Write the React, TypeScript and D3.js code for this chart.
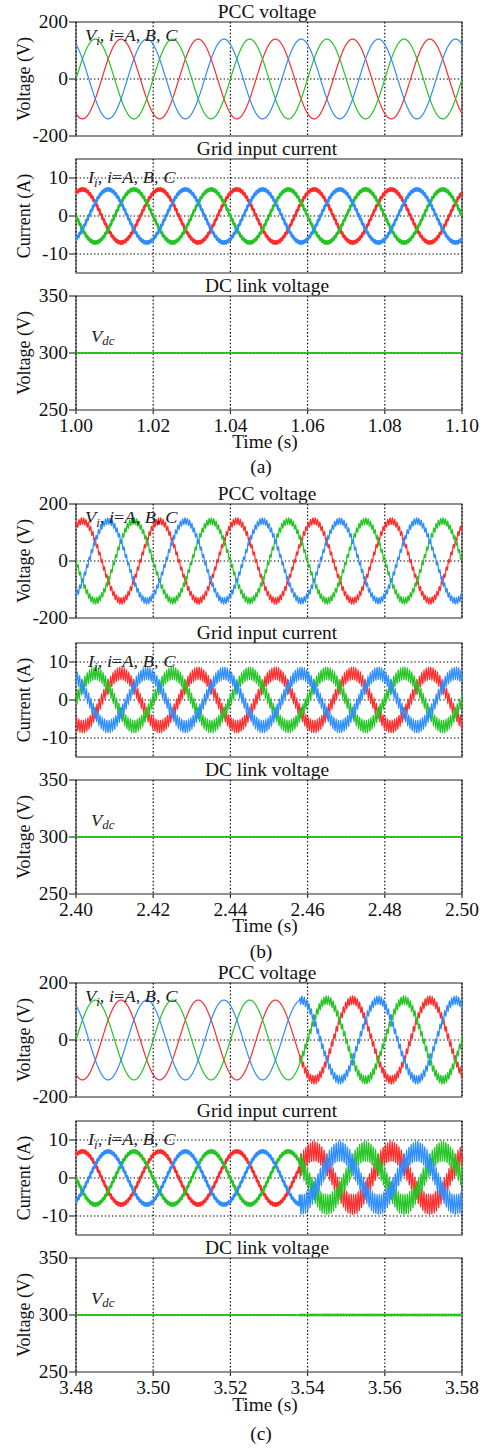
import React from "react";
import * as d3 from "d3";

// ---------------- data ----------------
const groupLabels = ["(a)", "(b)", "(c)"];
const windowStarts = [1.0, 2.4, 3.48];
const windowLength = 0.1;
const timeTickLabelsA = ["1.00", "1.02", "1.04", "1.06", "1.08", "1.10"];
const timeTickLabelsB = ["2.40", "2.42", "2.44", "2.46", "2.48", "2.50"];
const timeTickLabelsC = ["3.48", "3.50", "3.52", "3.54", "3.56", "3.58"];
const gridFrequency = 50; // Hz
const phaseNames = ["A", "B", "C"];

// PCC voltage: phase angle (deg) at window start of each trace (red, green, blue)
const pccPhaseA = [-120, 0, 120];
const pccPhaseB = [60, 180, 300];
const pccPhaseC = [-120, 0, 120];
const pccAmplitude = [140, 140, 140]; // V peak
const pccRippleBefore = [0, 11, 0]; // V ripple before onset
const pccRippleAfter = [0, 11, 14]; // V ripple after onset
const rippleFreqVoltage = 1650; // Hz

// Grid current: phase angle (deg) at window start (red, green, blue)
const currentPhaseA = [60, 180, -60];
const currentPhaseB = [-120, 0, 120];
const currentPhaseC = [60, 180, -60];
const currentAmplitude = [7, 7, 7]; // A peak
const currentRippleBefore = [0.3, 1.6, 0.3]; // A
const currentRippleAfter = [0.3, 1.6, 2.6]; // A
const rippleFreqCurrent = 1700; // Hz

// disturbance onset time per group (ripple change)
const rippleOnset = [1.1, 2.4, 3.538];

// DC link voltage
const dcVoltage = [300, 300, 300];
const dcRippleBefore = [0, 0, 0];
const dcRippleAfter = [0, 0, 0.35];

const pccTicks = [-200, 0, 200];
const currentTicks = [-10, 0, 10];
const dcTicks = [250, 300, 350];

// ---------------- styles / layout ----------------
const traceColors = ["#ff2b2b", "#25c425", "#2d8dff"];
const dcColor = "#2ecc1e";
const FONT = "'Liberation Serif','Times New Roman',serif";
const SX = 1.08;
const W = 488;
const H = 1450;
const X0 = 76;
const X1 = 462;
const PANEL_H = 114;
const layout = [
  { tops: [22, 159, 296], timeLabel: 448, caption: 473 },
  { tops: [504, 643, 780], timeLabel: 932, caption: 958 },
  { tops: [983, 1121, 1258], timeLabel: 1411, caption: 1440 },
];

const phasesByGroup = [
  [pccPhaseA, currentPhaseA],
  [pccPhaseB, currentPhaseB],
  [pccPhaseC, currentPhaseC],
];
const tickLabelsByGroup = [timeTickLabelsA, timeTickLabelsB, timeTickLabelsC];

function sampleWave(
  t0: number,
  amp: number,
  phaseDeg: number,
  offset: number,
  rBefore: number,
  rAfter: number,
  onset: number,
  rFreq: number,
  idx: number
): [number, number][] {
  const n = 3000;
  const pts: [number, number][] = [];
  for (let k = 0; k <= n; k++) {
    const t = t0 + (windowLength * k) / n;
    const theta = 2 * Math.PI * gridFrequency * (t - t0) + (phaseDeg * Math.PI) / 180;
    const r = t >= onset ? rAfter : rBefore;
    const v =
      offset +
      amp * Math.sin(theta) +
      r * Math.sin(2 * Math.PI * rFreq * (t - t0) + idx * 2.1);
    pts.push([t, v]);
  }
  return pts;
}

function Txt(props: {
  x: number;
  y: number;
  anchor?: string;
  size?: number;
  children: React.ReactNode;
}) {
  const { x, y, anchor = "middle", size = 18, children } = props;
  return (
    <text
      transform={`translate(${x},${y}) scale(${SX},1)`}
      textAnchor={anchor as any}
      fontSize={size}
      fontFamily={FONT}
      fill="#111"
    >
      {children}
    </text>
  );
}

type Kind = "pcc" | "current" | "dc";

function Panel({ g, kind, top }: { g: number; kind: Kind; top: number }) {
  const t0 = windowStarts[g];
  const x = d3.scaleLinear().domain([t0, t0 + windowLength]).range([X0, X1]);
  const domain = kind === "pcc" ? [-200, 200] : kind === "current" ? [-15, 15] : [250, 350];
  const ticks = kind === "pcc" ? pccTicks : kind === "current" ? currentTicks : dcTicks;
  const y = d3.scaleLinear().domain(domain).range([top + PANEL_H, top]);
  const line = d3
    .line<[number, number]>()
    .x((d) => x(d[0]))
    .y((d) => y(d[1]));
  const xTickVals = d3.range(6).map((i) => t0 + i * 0.02);
  const title = kind === "pcc" ? "PCC voltage" : kind === "current" ? "Grid input current" : "DC link voltage";
  const ylab = kind === "current" ? "Current (A)" : "Voltage (V)";
  const midY = top + PANEL_H / 2;

  let traces: React.ReactNode[] = [];
  if (kind === "pcc" || kind === "current") {
    const phases = phasesByGroup[g][kind === "pcc" ? 0 : 1];
    phaseNames.forEach((_, i) => {
      const pts =
        kind === "pcc"
          ? sampleWave(t0, pccAmplitude[g], phases[i], 0, pccRippleBefore[g], pccRippleAfter[g], rippleOnset[g], rippleFreqVoltage, i)
          : sampleWave(t0, currentAmplitude[g], phases[i], 0, currentRippleBefore[g], currentRippleAfter[g], rippleOnset[g], rippleFreqCurrent, i);
      const thick = kind === "current" && currentRippleBefore[g] < 1;
      if (kind === "current" && g === 2) {
        const before = pts.filter((p) => p[0] <= rippleOnset[g]);
        const after = pts.filter((p) => p[0] >= rippleOnset[g] - 0.0002);
        traces.push(
          <path key={"b" + i} d={line(before) || ""} fill="none" stroke={traceColors[i]} strokeWidth={2.6} />
        );
        traces.push(
          <path key={"a" + i} d={line(after) || ""} fill="none" stroke={traceColors[i]} strokeWidth={1.1} />
        );
      } else {
        traces.push(
          <path
            key={i}
            d={line(pts) || ""}
            fill="none"
            stroke={traceColors[i]}
            strokeWidth={kind === "current" ? (thick ? 2.6 : 1.1) : 1.2}
          />
        );
      }
    });
  } else {
    const pts = sampleWave(t0, 0, 0, dcVoltage[g], dcRippleBefore[g], dcRippleAfter[g], rippleOnset[g], rippleFreqVoltage, 0);
    traces.push(<path key="dc" d={line(pts) || ""} fill="none" stroke={dcColor} strokeWidth={2.2} />);
  }

  return (
    <g>
      <Txt x={267} y={top - 4}>{title}</Txt>
      {/* frame */}
      <rect x={X0} y={top} width={X1 - X0} height={PANEL_H} fill="#fff" stroke="#555" strokeWidth={1.3} />
      {/* vertical grid */}
      {xTickVals.map((t, i) => (
        <line key={"vx" + i} x1={x(t)} x2={x(t)} y1={top} y2={top + PANEL_H} stroke="#000" strokeWidth={1.2} strokeDasharray="1.4 2.2" />
      ))}
      {/* horizontal grid */}
      {ticks
        .filter((v) => v > domain[0] && v < domain[1])
        .map((v, i) => (
          <line key={"hy" + i} x1={X0} x2={X1} y1={y(v)} y2={y(v)} stroke="#000" strokeWidth={1.2} strokeDasharray="1.4 2.2" />
        ))}
      {traces}
      {kind === "dc" && (
        <line x1={X0} x2={X1} y1={y(dcVoltage[g])} y2={y(dcVoltage[g])} stroke="#1b4d12" strokeOpacity={0.45} strokeWidth={1} strokeDasharray="1 2" />
      )}
      {/* y ticks */}
      {ticks.map((v, i) => (
        <g key={"yt" + i}>
          <line x1={X0 - 7} x2={X0} y1={y(v)} y2={y(v)} stroke="#333" strokeWidth={1.2} />
          <Txt x={X0 - 8} y={y(v) + 6} anchor="end">{String(v)}</Txt>
        </g>
      ))}
      {/* y label */}
      <text
        transform={`translate(30,${midY}) rotate(-90)`}
        textAnchor="middle"
        fontSize={18}
        fontFamily={FONT}
        fill="#111"
      >
        {ylab}
      </text>
      {/* annotation */}
      {kind === "pcc" && (
        <text transform={`translate(85,${top + 19}) scale(${SX},1)`} fontSize={17} fontFamily={FONT} fill="#222">
          <tspan fontStyle="italic">V</tspan>
          <tspan fontStyle="italic" fontSize={12} dy={4}>i</tspan>
          <tspan dy={-4}>, </tspan>
          <tspan fontStyle="italic">i</tspan>
          <tspan>=</tspan>
          <tspan fontStyle="italic">A</tspan>
          <tspan>, </tspan>
          <tspan fontStyle="italic">B</tspan>
          <tspan>, </tspan>
          <tspan fontStyle="italic">C</tspan>
        </text>
      )}
      {kind === "current" && (
        <text transform={`translate(88,${top + 24}) scale(${SX},1)`} fontSize={17} fontFamily={FONT} fill="#222">
          <tspan fontStyle="italic">I</tspan>
          <tspan fontStyle="italic" fontSize={12} dy={4}>i</tspan>
          <tspan dy={-4}>, </tspan>
          <tspan fontStyle="italic">i</tspan>
          <tspan>=</tspan>
          <tspan fontStyle="italic">A</tspan>
          <tspan>, </tspan>
          <tspan fontStyle="italic">B</tspan>
          <tspan>, </tspan>
          <tspan fontStyle="italic">C</tspan>
        </text>
      )}
      {kind === "dc" && (
        <text transform={`translate(91,${top + 46}) scale(${SX},1)`} fontSize={17} fontFamily={FONT} fill="#222">
          <tspan fontStyle="italic">V</tspan>
          <tspan fontStyle="italic" fontSize={12} dy={3}>dc</tspan>
        </text>
      )}
      {/* x axis labels for bottom panel */}
      {kind === "dc" &&
        xTickVals.map((t, i) => (
          <g key={"xt" + i}>
            <line x1={x(t)} x2={x(t)} y1={top + PANEL_H} y2={top + PANEL_H + 4} stroke="#333" strokeWidth={1.2} />
            <Txt x={x(t)} y={top + PANEL_H + 22}>{tickLabelsByGroup[g][i]}</Txt>
          </g>
        ))}
    </g>
  );
}

export default function App() {
  return (
    <div style={{ position: "absolute", left: 0, top: 0, width: W, height: H, background: "#fff" }}>
      <svg width={W} height={H} viewBox={`0 0 ${W} ${H}`} style={{ display: "block" }}>
        <rect x={0} y={0} width={W} height={H} fill="#fff" />
        {layout.map((L, g) => (
          <g key={g}>
            <Panel g={g} kind="pcc" top={L.tops[0]} />
            <Panel g={g} kind="current" top={L.tops[1]} />
            <Panel g={g} kind="dc" top={L.tops[2]} />
            <Txt x={265} y={L.timeLabel}>Time (s)</Txt>
            <Txt x={261} y={L.caption}>{groupLabels[g]}</Txt>
          </g>
        ))}
      </svg>
    </div>
  );
}
